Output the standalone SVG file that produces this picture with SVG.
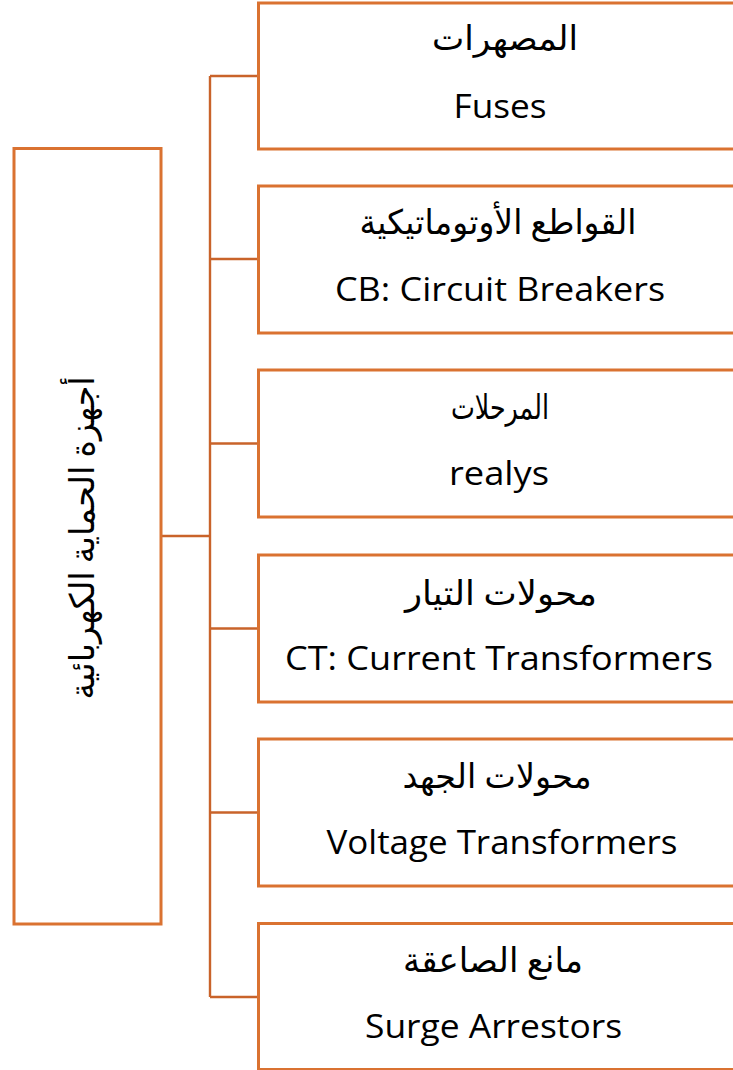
<svg xmlns="http://www.w3.org/2000/svg" width="733" height="1070" viewBox="0 0 733 1070">
<style>
.box{fill:#FFFFFF;stroke:#DA7231;stroke-width:3}
.con{fill:none;stroke:#C9632A;stroke-width:2.4}
.ar{font-family:"Liberation Serif","DejaVu Sans",serif;font-size:34px;fill:#000;text-anchor:middle}
.en{font-family:"Open Sans","Noto Sans",sans-serif;font-size:33px;fill:#000;text-anchor:middle}
</style>
<rect width="733" height="1070" fill="#FFFFFF"/>
<g id="connectors">
<line class="con" x1="161" y1="536" x2="210" y2="536"/>
<line class="con" x1="210" y1="76" x2="210" y2="997"/>
<line class="con" x1="210" y1="76" x2="258" y2="76"/>
<line class="con" x1="210" y1="259" x2="258" y2="259"/>
<line class="con" x1="210" y1="443.5" x2="258" y2="443.5"/>
<line class="con" x1="210" y1="628.5" x2="258" y2="628.5"/>
<line class="con" x1="210" y1="812.5" x2="258" y2="812.5"/>
<line class="con" x1="210" y1="997" x2="258" y2="997"/>
</g>
<g id="root">
<rect class="box" x="14" y="148.5" width="147" height="775.5"/>
<text class="ar" transform="translate(94,538) rotate(-90)" textLength="323" lengthAdjust="spacingAndGlyphs">أجهزة الحماية الكهربائية</text>
</g>
<g id="n1">
<rect class="box" x="258.5" y="3" width="482" height="146"/>
<text class="ar" x="505" y="50" textLength="146" lengthAdjust="spacingAndGlyphs">المصهرات</text>
<text class="en" x="500" y="118" textLength="93" lengthAdjust="spacingAndGlyphs">Fuses</text>
</g>
<g id="n2">
<rect class="box" x="258.5" y="186" width="482" height="147"/>
<text class="ar" x="498" y="234" textLength="277" lengthAdjust="spacingAndGlyphs">القواطع الأوتوماتيكية</text>
<text class="en" x="500" y="301" textLength="330" lengthAdjust="spacingAndGlyphs">CB: Circuit Breakers</text>
</g>
<g id="n3">
<rect class="box" x="258.5" y="370" width="482" height="147"/>
<text class="ar" x="500" y="419" textLength="98" lengthAdjust="spacingAndGlyphs">المرحلات</text>
<text class="en" x="499" y="485" textLength="100" lengthAdjust="spacingAndGlyphs">realys</text>
</g>
<g id="n4">
<rect class="box" x="258.5" y="555" width="482" height="147"/>
<text class="ar" x="501" y="605" textLength="192" lengthAdjust="spacingAndGlyphs">محولات التيار</text>
<text class="en" x="499" y="670" textLength="428" lengthAdjust="spacingAndGlyphs">CT: Current Transformers</text>
</g>
<g id="n5">
<rect class="box" x="258.5" y="739" width="482" height="147"/>
<text class="ar" x="497" y="788" textLength="189" lengthAdjust="spacingAndGlyphs">محولات الجهد</text>
<text class="en" x="502" y="854" textLength="351" lengthAdjust="spacingAndGlyphs">Voltage Transformers</text>
</g>
<g id="n6">
<rect class="box" x="258.5" y="923.5" width="482" height="146"/>
<text class="ar" x="493" y="972" textLength="180" lengthAdjust="spacingAndGlyphs">مانع الصاعقة</text>
<text class="en" x="493.5" y="1038" textLength="257" lengthAdjust="spacingAndGlyphs">Surge Arrestors</text>
</g>
</svg>
